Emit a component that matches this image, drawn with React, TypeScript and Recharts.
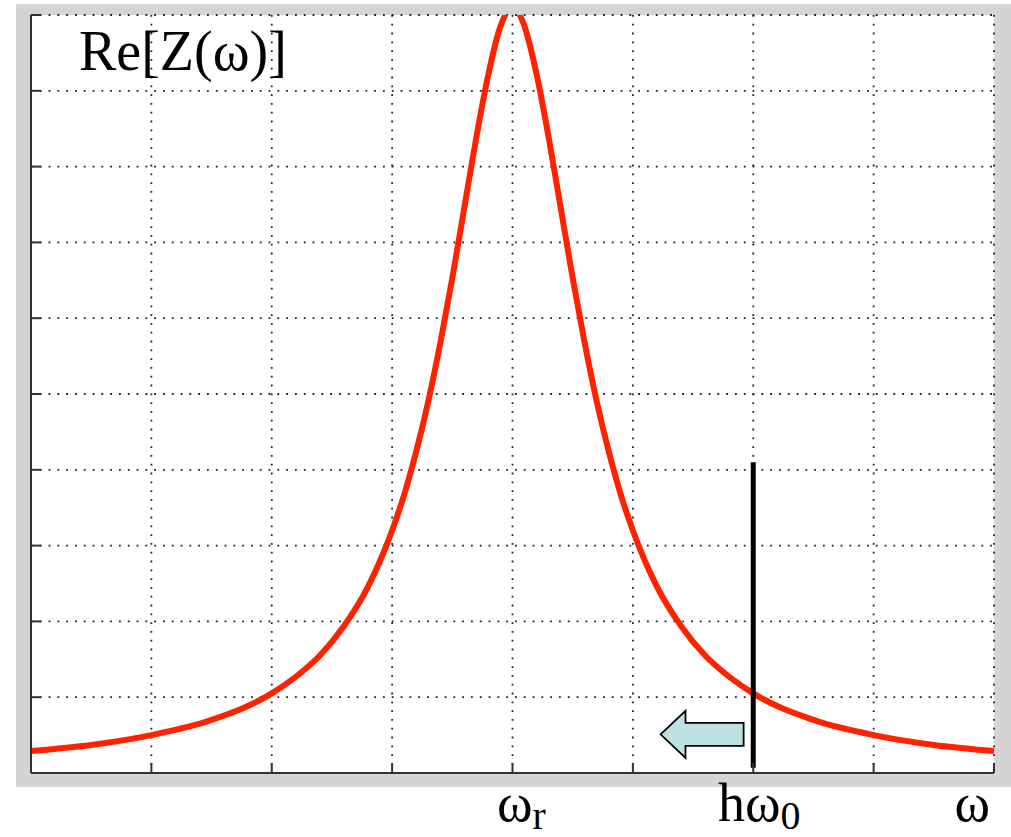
import {
  LineChart,
  Line,
  XAxis,
  YAxis,
  CartesianGrid,
  ReferenceLine,
  ReferenceArea,
} from 'recharts';

// frequency (grid units) and Re[Z] (grid units)
const omega = [
  0, 0.5, 1, 1.5, 2, 2.2, 2.4, 2.6, 2.8, 3, 3.1, 3.2, 3.3, 3.4, 3.5, 3.6, 3.7, 3.8, 3.9,
  4, 4.1, 4.2, 4.3, 4.4, 4.5, 4.6, 4.7, 4.8, 4.9, 5, 5.2, 5.4, 5.6, 5.8, 6, 6.5, 7, 7.5, 8,
];
const reZ = [
  0.29, 0.37, 0.5, 0.7, 1.05, 1.27, 1.55, 1.94, 2.46, 3.2, 3.67, 4.24, 4.9, 5.67, 6.53, 7.46,
  8.39, 9.22, 9.85, 10.1, 9.85, 9.22, 8.39, 7.46, 6.53, 5.67, 4.9, 4.24, 3.67, 3.2, 2.46, 1.94,
  1.55, 1.27, 1.05, 0.7, 0.5, 0.37, 0.29,
];

const xTicks = [0, 1, 2, 3, 4, 5, 6, 7, 8];
const yTicks = [0, 1, 2, 3, 4, 5, 6, 7, 8, 9, 10];

// axis labels under the plot
const labelAt = [4, 6, 8];
const labelMain = ['ω', 'hω', 'ω'];
const labelSub = ['r', '0', ''];

// marker line at hω0 and the arrow next to it
const markerX = 6;
const markerFrom = 0.07;
const markerTo = 4.1;
const arrowX = [5.23, 5.92];
const arrowY = [0.2, 0.82];

const data = omega.map((w, i) => ({ w, v: reZ[i] }));

const serif = '"Liberation Serif", "Times New Roman", serif';

const XTick = (props: any) => {
  const { x, y, payload } = props;
  const i = labelAt.indexOf(payload.value);
  if (i < 0) return <g />;
  const last = i === labelAt.length - 1;
  const shift = [9, 6, -4][i];
  return (
    <text
      x={x + shift}
      y={y}
      textAnchor={last ? 'end' : 'middle'}
      fontFamily={serif}
      fontSize={54}
      fill="#000"
    >
      {labelMain[i]}
      {labelSub[i] && (
        <tspan fontSize={40} dy={8}>
          {labelSub[i]}
        </tspan>
      )}
    </text>
  );
};

const Arrow = (props: any) => {
  const { x, y, width, height } = props;
  const head = width * 0.3;
  const t = y + height * 0.255;
  const b = y + height * 0.745;
  const pts = [
    [x, y + height / 2],
    [x + head, y],
    [x + head, t],
    [x + width, t],
    [x + width, b],
    [x + head, b],
    [x + head, y + height],
  ]
    .map((p) => p.join(','))
    .join(' ');
  return <polygon points={pts} fill="#bde0e0" stroke="#000" strokeWidth={1.8} strokeLinejoin="miter" />;
};

export default function App() {
  return (
    <div style={{ position: 'absolute', left: 0, top: 0, width: 1011, height: 837, background: '#fff' }}>
      <div
        style={{ position: 'absolute', left: 16, top: 4, width: 995, height: 783, background: '#d4d4d4' }}
      />
      <div style={{ position: 'absolute', left: 0, top: 0 }}>
        <LineChart width={1011} height={837} data={data} margin={{ top: 15, right: 17, bottom: 0, left: 0 }}>
          <CartesianGrid
            stroke="#222"
            strokeWidth={1.8}
            strokeDasharray="1.8 7"
            fill="#fff"
            fillOpacity={1}
            horizontalValues={yTicks}
            verticalValues={xTicks}
          />
          <XAxis
            dataKey="w"
            type="number"
            domain={[0, 8]}
            ticks={xTicks}
            height={64}
            tickSize={-10}
            tickMargin={58}
            stroke="#333"
            strokeWidth={2}
            tick={<XTick />}
            interval={0}
          />
          <YAxis
            type="number"
            domain={[0, 10]}
            ticks={yTicks}
            width={31}
            tickSize={-10}
            tick={() => <g />}
            interval={0}
            stroke="#333"
            strokeWidth={2}
            allowDataOverflow
          />
          <Line
            type="monotone"
            dataKey="v"
            stroke="#ff2200"
            strokeWidth={6}
            dot={false}
            activeDot={false}
            isAnimationActive={false}
          />
          <ReferenceLine
            segment={[
              { x: markerX, y: markerFrom },
              { x: markerX, y: markerTo },
            ]}
            stroke="#000"
            strokeWidth={5}
          />
          <ReferenceArea
            x1={arrowX[0]}
            x2={arrowX[1]}
            y1={arrowY[0]}
            y2={arrowY[1]}
            shape={<Arrow />}
          />
        </LineChart>
      </div>
      <div
        style={{
          position: 'absolute',
          left: 79,
          top: 23,
          fontFamily: serif,
          fontSize: 56,
          lineHeight: 1,
          color: '#000',
          whiteSpace: 'nowrap',
        }}
      >
        Re[Z(ω)]
      </div>
    </div>
  );
}
